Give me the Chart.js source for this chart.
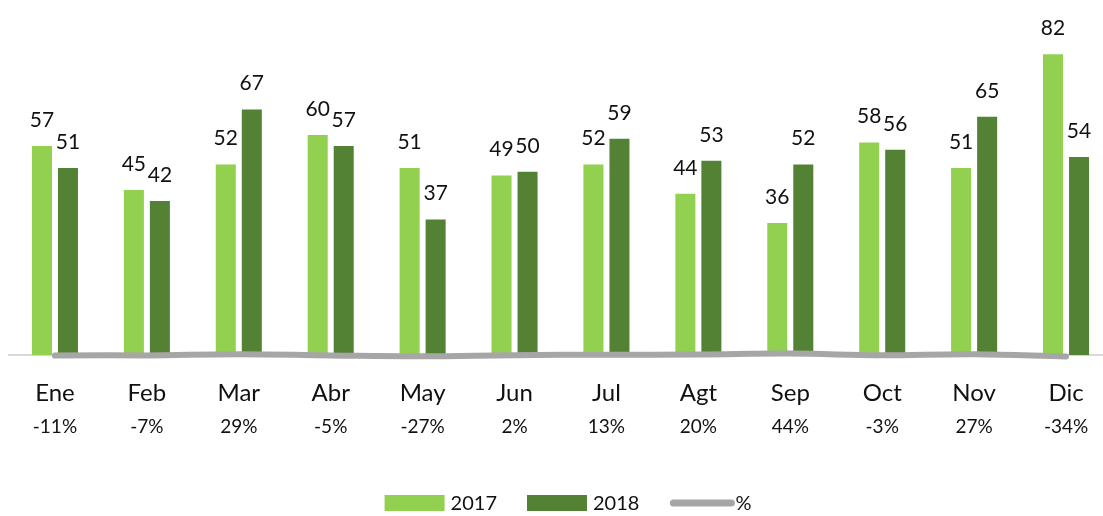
<!DOCTYPE html>
<html>
<head>
<meta charset="utf-8">
<script src="https://cdn.jsdelivr.net/npm/chart.js@4/dist/chart.umd.min.js"></script>
<style>
  html, body { margin: 0; padding: 0; background: #fff; overflow: hidden; }
  #chart-wrapper { width: 1112px; height: 516px; }
</style>
</head>
<body>
<div id="chart-wrapper"><canvas id="chart"></canvas></div>
<script>
var months = ['Ene', 'Feb', 'Mar', 'Abr', 'May', 'Jun', 'Jul', 'Agt', 'Sep', 'Oct', 'Nov', 'Dic'];
var values2017 = [57, 45, 52, 60, 51, 49, 52, 44, 36, 58, 51, 82];
var values2018 = [51, 42, 67, 57, 37, 50, 59, 53, 52, 56, 65, 54];
var pctChange = [-11, -7, 29, -5, -27, 2, 13, 20, 44, -3, 27, -34];

var FONT = 'Lato, "Open Sans", sans-serif';
var TEXT = '#111';

// numbers above the bars
var barLabels = {
  id: 'barLabels',
  afterDatasetsDraw: function(chart) {
    var ctx = chart.ctx;
    ctx.save();
    ctx.font = '21px ' + FONT;
    ctx.fillStyle = TEXT;
    ctx.textAlign = 'center';
    ctx.textBaseline = 'alphabetic';
    [0, 1].forEach(function(di) {
      var meta = chart.getDatasetMeta(di);
      meta.data.forEach(function(bar, i) {
        ctx.fillText(chart.data.datasets[di].data[i], bar.x, bar.y - 19);
      });
    });
    ctx.restore();
  }
};

// % row under the month names + legend
var extras = {
  id: 'extras',
  afterDraw: function(chart) {
    var ctx = chart.ctx;
    var x = chart.scales.x;
    ctx.save();
    ctx.font = '19px ' + FONT;
    ctx.fillStyle = TEXT;
    ctx.textAlign = 'center';
    ctx.textBaseline = 'alphabetic';
    pctChange.forEach(function(p, i) {
      ctx.fillText(p + '%', x.getPixelForValue(i), 433);
    });

    // legend
    var items = chart.data.datasets.map(function(ds) {
      return { text: ds.label, color: ds.type === 'line' ? ds.borderColor : ds.backgroundColor, line: ds.type === 'line' };
    });
    ctx.font = '20px ' + FONT;
    var boxW = 60, boxH = 16, gapText = 6, gapItem = 30;
    var total = 0;
    items.forEach(function(it, i) {
      it.w = ctx.measureText(it.text).width;
      total += boxW + gapText + it.w + (i < items.length - 1 ? gapItem : 0);
    });
    var cx = 568, cy = 503;
    var px = cx - total / 2;
    ctx.textAlign = 'left';
    ctx.textBaseline = 'middle';
    items.forEach(function(it) {
      if (it.line) {
        ctx.strokeStyle = it.color;
        ctx.lineWidth = 7;
        ctx.lineCap = 'round';
        ctx.beginPath();
        ctx.moveTo(px + 4, cy);
        ctx.lineTo(px + boxW + 2, cy);
        ctx.stroke();
      } else {
        ctx.fillStyle = it.color;
        ctx.fillRect(px, cy - boxH / 2, boxW, boxH);
      }
      ctx.fillStyle = TEXT;
      ctx.fillText(it.text, px + boxW + gapText, cy + 1);
      px += boxW + gapText + it.w + gapItem;
    });
    ctx.restore();
  }
};

var ctx = document.getElementById('chart');
var chart = new Chart(ctx, {
  data: {
    labels: months,
    datasets: [{
      type: 'bar',
      label: '2017',
      data: values2017,
      backgroundColor: '#92d050',
      barPercentage: 0.77,
      categoryPercentage: 0.566,
      order: 1
    }, {
      type: 'bar',
      label: '2018',
      data: values2018,
      backgroundColor: '#548235',
      barPercentage: 0.77,
      categoryPercentage: 0.566,
      order: 1
    }, {
      type: 'line',
      label: '%',
      data: pctChange.map(function(v) { return v / 100; }),
      borderColor: '#a6a6a6',
      borderWidth: 6,
      borderCapStyle: 'round',
      pointRadius: 0,
      tension: 0.4,
      clip: false,
      order: 0
    }]
  },
  options: {
    responsive: true,
    maintainAspectRatio: false,
    animation: false,
    layout: {
      padding: { top: 25, left: 9, right: 0, bottom: 84 }
    },
    plugins: {
      legend: { display: false },
      tooltip: { enabled: false }
    },
    scales: {
      x: {
        grid: { display: false, drawTicks: false },
        border: { display: true, color: '#d9d9d9', width: 2 },
        ticks: {
          color: TEXT,
          padding: 24,
          font: { family: FONT, size: 24 }
        }
      },
      y: {
        display: false,
        min: 0,
        max: 90
      }
    }
  },
  plugins: [barLabels, extras]
});
</script>
</body>
</html>
